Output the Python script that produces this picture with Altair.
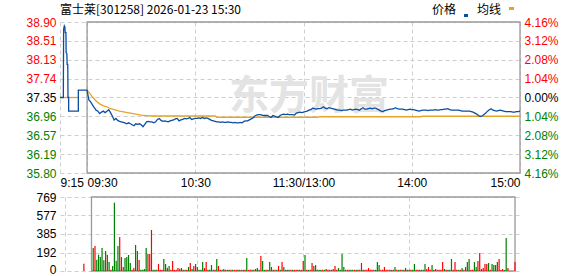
import altair as alt
import pandas as pd

# ---------------- data ----------------
TITLE = "富士莱[301258] 2026-01-23 15:30"
WATERMARK = "东方财富"
LEGEND = ["价格", "均线"]

price_ticks = [35.80, 36.19, 36.57, 36.96, 37.35, 37.74, 38.13, 38.51, 38.90]
pct_ticks = [-4.16, -3.12, -2.08, -1.04, 0.0, 1.04, 2.08, 3.12, 4.16]
vol_ticks = [0, 192, 385, 577, 769]
time_ticks = [-15, 0, 60, 120, 180, 240]
time_labels = ["9:15", "09:30", "10:30", "11:30/13:00", "14:00", "15:00"]
grid_ticks_vol = [-15, 60, 120, 180]

# pre-market (call auction) price, minutes relative to 09:30
pre_t = [-15, -13.15, -13.0, -12.6, -12.3, -12.1, -11.7, -11.6, -11.2, -11.05,
         -10.7, -10.55, -10.2, -10.2, -4.84, -4.84]
pre_price = [37.35, 37.35, 38.75, 38.82, 38.80, 38.68, 38.68, 38.27, 38.25, 38.03,
             38.03, 37.35, 37.35, 37.07, 37.07, 37.50]

# trading-session price per minute (0 = 09:30 ... 240 = 15:00)
main_price = [
    37.50, 37.30, 37.26, 37.20, 37.14, 37.09, 37.07, 37.02, 37.05, 37.07,
    37.04, 37.07, 37.10, 37.04, 36.97, 36.89, 36.92, 36.88, 36.86, 36.85,
    36.84, 36.83, 36.81, 36.83, 36.81, 36.79, 36.77, 36.81, 36.80, 36.81,
    36.79, 36.75, 36.80, 36.85, 36.86, 36.85, 36.85, 36.83, 36.85, 36.90,
    36.92, 36.88, 36.86, 36.87, 36.86, 36.85, 36.87, 36.88, 36.89, 36.91,
    36.92, 36.87, 36.89, 36.90, 36.92, 36.91, 36.92, 36.94, 36.90, 36.91,
    36.92, 36.92, 36.93, 36.92, 36.94, 36.92, 36.93, 36.92, 36.90, 36.88,
    36.87, 36.86, 36.85, 36.85, 36.84, 36.85, 36.84, 36.84, 36.85, 36.84,
    36.84, 36.83, 36.84, 36.83, 36.83, 36.84, 36.83, 36.86, 36.87, 36.87,
    36.89, 36.91, 36.93, 36.97, 36.99, 37.00, 37.00, 36.99, 36.98, 36.98,
    36.98, 36.96, 36.94, 36.98, 36.97, 36.95, 36.94, 36.98, 37.00, 37.01,
    37.00, 37.01, 37.00, 37.00, 37.00, 36.99, 37.03, 37.04, 37.05, 37.04,
    37.05, 37.06, 37.07, 37.09, 37.10, 37.13, 37.12, 37.11, 37.12, 37.12,
    37.13, 37.16, 37.13, 37.12, 37.14, 37.13, 37.12, 37.11, 37.10, 37.09,
    37.09, 37.08, 37.09, 37.09, 37.09, 37.10, 37.11, 37.09, 37.10, 37.11,
    37.10, 37.09, 37.12, 37.14, 37.11, 37.11, 37.12, 37.13, 37.12, 37.13,
    37.13, 37.11, 37.09, 37.07, 37.06, 37.08, 37.09, 37.10, 37.11, 37.11,
    37.12, 37.14, 37.12, 37.11, 37.11, 37.11, 37.10, 37.09, 37.10, 37.11,
    37.10, 37.10, 37.09, 37.08, 37.07, 37.08, 37.09, 37.09, 37.09, 37.08,
    37.09, 37.09, 37.09, 37.10, 37.09, 37.09, 37.10, 37.10, 37.11, 37.11,
    37.12, 37.10, 37.09, 37.09, 37.09, 37.09, 37.09, 37.08, 37.07, 37.07,
    37.07, 37.07, 37.07, 37.06, 37.05, 37.03, 37.01, 36.98, 36.96, 36.97,
    37.00, 37.03, 37.07, 37.10, 37.12, 37.09, 37.08, 37.07, 37.08, 37.09,
    37.08, 37.07, 37.06, 37.06, 37.06, 37.06, 37.05, 37.05, 37.06, 37.06,
    37.07,
]

# average-price line
pre_avg_t = [-15, -4.84]
pre_avg = [37.35, 37.35]
avg_t = [0, 1, 3, 5, 7, 9, 11, 13, 15, 18, 21, 24, 27, 30, 33, 36,
         71, 72, 128, 129, 185, 186, 240]
avg_price = [37.50, 37.46, 37.36, 37.28, 37.22, 37.18, 37.16, 37.12, 37.10, 37.07,
             37.05, 37.03, 37.01, 36.99, 36.98, 36.97,
             36.97, 36.945, 36.945, 36.955, 36.955, 36.965, 36.965]

# volume per minute (minute 1 .. 240) and bar colour (R = up, G = down)
vol = [
    239, 260, 118, 170, 145, 239, 111, 208, 170, 94,
    12, 52, 710, 107, 260, 353, 145, 42, 135, 145,
    166, 83, 12, 31, 270, 208, 114, 12, 12, 21,
    239, 177, 177, 426, 12, 12, 12, 73, 12, 12,
    125, 73, 35, 52, 12, 104, 12, 12, 31, 24,
    31, 12, 12, 12, 42, 83, 21, 52, 73, 42,
    12, 12, 94, 31, 94, 12, 12, 62, 12, 12,
    125, 52, 12, 12, 21, 12, 12, 12, 12, 12,
    12, 12, 12, 12, 12, 12, 12, 135, 12, 12,
    12, 12, 21, 31, 12, 156, 104, 12, 12, 12,
    94, 42, 12, 12, 12, 52, 12, 94, 42, 12,
    12, 12, 12, 12, 12, 12, 12, 12, 12, 104,
    166, 12, 12, 12, 83, 52, 62, 12, 12, 12,
    12, 12, 21, 12, 12, 12, 21, 52, 12, 31,
    12, 177, 42, 12, 12, 12, 12, 12, 12, 12,
    12, 12, 83, 12, 12, 12, 31, 12, 12, 12,
    12, 94, 62, 12, 12, 42, 12, 12, 12, 12,
    12, 42, 12, 12, 12, 12, 12, 31, 12, 12,
    12, 12, 73, 12, 12, 12, 12, 12, 73, 21,
    42, 12, 62, 12, 21, 12, 12, 12, 94, 21,
    12, 12, 12, 125, 12, 94, 12, 12, 12, 31,
    12, 42, 94, 125, 12, 12, 94, 42, 104, 187,
    21, 31, 73, 73, 83, 12, 73, 62, 62, 94,
    125, 10, 21, 10, 343, 31, 0, 0, 0, 94,
]
vol_col = list(
    "GRGGGGGGRG" "RGGGGRGRGG" "GGRRGGRGGG" "GRRRGGGRRR" "GGRGRRRRRR"
    "GRGRGRGRGR" "GGGRRGGGGR" "GRRGRRGGRG" "RRGRRGRGRR" "GRGGGRGGRG"
    "GRGRGRGRGG" "RGRGRRGRRR" "GRGRRGRGGG" "RGRRGRRRRG" "GGGRRRGGRG"
    "RGRGRRRRRG" "GGGRRRRRGR" "RGRGRGRGRG" "RGGRRGRGGR" "RRGRRRRRRG"
    "RGGGRRRGRG" "RRGGRRGGRR" "RRRRGRGGRG" "RRRGGRRRRR"
)
pre_vol_t = [-4.3]
pre_vol = [76]
pre_vol_col = ["R"]

# ---------------- styling ----------------
RED = "#ff0000"
GREEN = "#008000"
BLUE = "#0b4ea2"
ORANGE = "#e2a52a"
GRID = "#cfcfcf"
BOX = "#9a9a9a"
FONT = "Liberation Sans"
CJK = "Noto Sans CJK SC"

# ---------------- tables ----------------
blue_df = pd.DataFrame({
    "t": pre_t + list(range(len(main_price))),
    "price": pre_price + main_price,
})
blue_df["order"] = range(len(blue_df))

avg_df = pd.DataFrame({
    "t": pre_avg_t + avg_t,
    "price": pre_avg + avg_price,
    "seg": ["pre"] * len(pre_avg_t) + ["main"] * len(avg_t),
})
avg_df["order"] = range(len(avg_df))

vol_df = pd.DataFrame({
    "t": pre_vol_t + list(range(1, len(vol) + 1)),
    "vol": pre_vol + vol,
    "col": pre_vol_col + vol_col[:len(vol)],
})
vol_df = vol_df[vol_df["vol"] > 0]

box_main_df = pd.DataFrame({"t": [time_ticks[1]], "t2": [time_ticks[-1]],
                            "price": [price_ticks[0]], "price2": [price_ticks[-1]]})
box_vol_df = pd.DataFrame({"t": [time_ticks[1]], "t2": [time_ticks[-1]],
                           "vol": [vol_ticks[0]], "vol2": [vol_ticks[-1]]})
pct_df = pd.DataFrame({"pct": pct_ticks})

# ---------------- scales & axes ----------------
x_scale = alt.Scale(domain=[time_ticks[0], time_ticks[-1]], nice=False, zero=False)
price_scale = alt.Scale(domain=[price_ticks[0], price_ticks[-1]], nice=False, zero=False)
pct_scale = alt.Scale(domain=[pct_ticks[0], pct_ticks[-1]], nice=False, zero=False)
vol_scale = alt.Scale(domain=[vol_ticks[0], vol_ticks[-1]], nice=False)

label_expr = "".join(
    f"datum.value == {v} ? '{s}' : " for v, s in zip(time_ticks, time_labels)
) + "''"

main_x_axis = alt.Axis(
    values=time_ticks, labelExpr=label_expr, grid=True, gridColor=GRID,
    gridDash=[4, 3], ticks=False, domain=False, labelFlush=False,
    labelOverlap=False, labelPadding=4, labelFontSize=12, labelFont=FONT,
    labelColor="#000000",
    labelAlign={"condition": [{"test": "datum.value <= 0", "value": "left"},
                              {"test": "datum.value >= 240", "value": "right"}],
                "value": "center"},
    title="",
)
vol_x_axis = alt.Axis(values=grid_ticks_vol, labels=False, grid=True, gridColor=GRID,
                      gridDash=[4, 3], ticks=False, domain=False, title="")

price_axis = alt.Axis(
    values=price_ticks, format=".2f", grid=True, gridColor=GRID, gridDash=[4, 3],
    ticks=False, domain=False, labelPadding=4, labelFontSize=12, labelFont=FONT,
    labelColor={"condition": [{"test": "datum.value > 37.36", "value": RED},
                              {"test": "datum.value < 37.34", "value": GREEN}],
                "value": "#000000"},
    title="",
)
pct_axis = alt.Axis(
    orient="right", values=pct_ticks, labelExpr="format(abs(datum.value), '.2f') + '%'",
    grid=False, ticks=False, domain=False, labelPadding=4, labelFontSize=12,
    labelFont=FONT,
    labelColor={"condition": [{"test": "datum.value > 0.001", "value": RED},
                              {"test": "datum.value < -0.001", "value": GREEN}],
                "value": "#000000"},
    title="",
)
vol_axis = alt.Axis(
    values=vol_ticks, format="d", grid=True, gridColor=GRID, gridDash=[4, 3],
    ticks=False, domain=False, labelPadding=4, labelFontSize=12, labelFont=FONT,
    labelColor="#000000", labelBaseline="middle", title="",
    labelOffset={"condition": {"test": "datum.value == 0", "value": -2}, "value": 0},
)

X = alt.X("t:Q", scale=x_scale, axis=main_x_axis)
Y = alt.Y("price:Q", scale=price_scale, axis=price_axis)
XV = alt.X("t:Q", scale=x_scale, axis=vol_x_axis)
YV = alt.Y("vol:Q", scale=vol_scale, axis=vol_axis)

# ---------------- main panel ----------------
one = pd.DataFrame({"k": [0]})

watermark = alt.Chart(pd.DataFrame({"txt": [WATERMARK]})).mark_text(
    font=CJK, fontSize=40, fontWeight="bold", color="#e3e3e3"
).encode(text="txt:N", x=alt.value(249), y=alt.value(75))

box_main = alt.Chart(box_main_df).mark_rect(
    fillOpacity=0, stroke=BOX, strokeWidth=1.3
).encode(x=X, x2="t2:Q", y=Y, y2="price2:Q")

avg_line = alt.Chart(avg_df).mark_line(color=ORANGE, strokeWidth=1.3).encode(
    x=X, y=Y, detail="seg:N", order="order:Q"
)
blue_line = alt.Chart(blue_df).mark_line(color=BLUE, strokeWidth=1.3).encode(
    x=X, y=Y, order="order:Q"
)

title_txt = alt.Chart(pd.DataFrame({"txt": [TITLE]})).mark_text(
    align="left", baseline="middle", font=CJK, fontSize=12, color="#000000"
).encode(text="txt:N", x=alt.value(0), y=alt.value(-12))

leg1 = alt.Chart(pd.DataFrame({"txt": [LEGEND[0]]})).mark_text(
    align="left", baseline="middle", font=CJK, fontSize=12, color="#000000"
).encode(text="txt:N", x=alt.value(372), y=alt.value(-12))
leg2 = alt.Chart(pd.DataFrame({"txt": [LEGEND[1]]})).mark_text(
    align="left", baseline="middle", font=CJK, fontSize=12, color="#000000"
).encode(text="txt:N", x=alt.value(417), y=alt.value(-12))
sw1 = alt.Chart(one).mark_rect(color=BLUE).encode(
    x=alt.value(404), x2=alt.value(408), y=alt.value(-8), y2=alt.value(-5)
)
sw2 = alt.Chart(one).mark_rect(color=ORANGE).encode(
    x=alt.value(449), x2=alt.value(454), y=alt.value(-15), y2=alt.value(-12)
)

pct_layer = alt.Chart(pct_df).mark_point(opacity=0).encode(
    y=alt.Y("pct:Q", scale=pct_scale, axis=pct_axis)
)

price_layers = alt.layer(watermark, box_main, avg_line, blue_line,
                         title_txt, leg1, sw1, leg2, sw2)
main = alt.layer(price_layers, pct_layer).resolve_scale(y="independent").properties(
    width=460, height=151
)

# ---------------- volume panel ----------------
box_vol = alt.Chart(box_vol_df).mark_rect(
    fillOpacity=0, stroke=BOX, strokeWidth=1.3
).encode(x=XV, x2="t2:Q", y=YV, y2="vol2:Q")

bars_r = alt.Chart(vol_df[vol_df["col"] == "R"]).mark_bar(color=RED, width=1.2).encode(
    x=XV, y=YV
)
bars_g = alt.Chart(vol_df[vol_df["col"] == "G"]).mark_bar(color=GREEN, width=1.2).encode(
    x=XV, y=YV
)
volp = alt.layer(box_vol, bars_r, bars_g).properties(width=460, height=74)

chart = alt.vconcat(main, volp, spacing=24, bounds="flush").properties(
    padding={"left": 25, "top": 3, "right": 5, "bottom": 2}
).configure_view(stroke="transparent")

chart.save("out.html", embed_options={"renderer": "svg", "actions": False})
